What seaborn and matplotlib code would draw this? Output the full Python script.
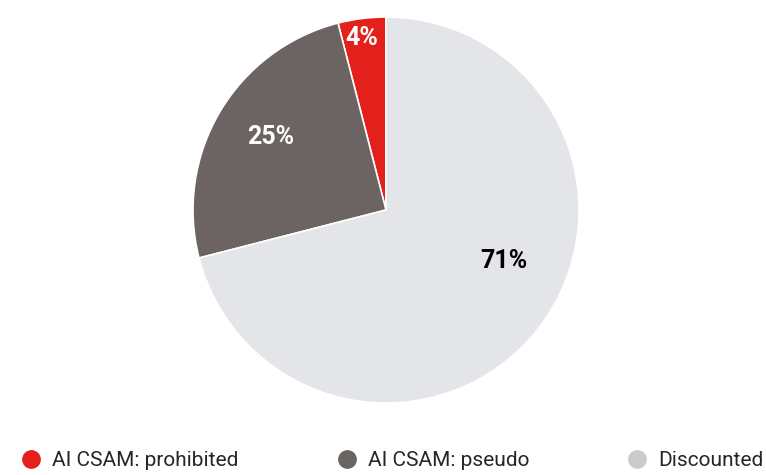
import matplotlib
matplotlib.use("Agg")
import matplotlib.pyplot as plt
from matplotlib.lines import Line2D
import seaborn as sns

categories = ["AI CSAM: prohibited", "AI CSAM: pseudo", "Discounted"]
shares = [4, 25, 71]
slice_colors = ["#e3201b", "#6b6462", "#e4e5e9"]
legend_colors = ["#e3201b", "#6b6462", "#cbcbcb"]
label_colors = ["white", "white", "black"]

sns.set_theme(style="white")
plt.rcParams["font.family"] = ["Roboto", "DejaVu Sans"]

fig = plt.figure(figsize=(7.66, 4.75), dpi=100)
ax = fig.add_axes([193 / 766, 72 / 475, 386 / 766, 386 / 475])

wedges, texts, autotexts = ax.pie(
    shares, colors=slice_colors, startangle=90, counterclock=True,
    autopct="%d%%", pctdistance=0.7,
    wedgeprops=dict(edgecolor="white", linewidth=1.2),
    textprops=dict(fontsize=18, fontweight="bold"),
)
# nudge labels to where the reference places them
label_pos = [(-0.124, 0.891), (-0.60, 0.378), (0.611, -0.264)]
for t, c, p in zip(autotexts, label_colors, label_pos):
    t.set_color(c)
    t.set_position(p)
ax.set_aspect("equal")
ax.set_xlim(-1, 1)
ax.set_ylim(-1, 1)

handles = [Line2D([0], [0], marker="o", linestyle="", markersize=12.5,
                  markerfacecolor=c, markeredgecolor=c) for c in legend_colors]
fig.legend(handles, categories, loc="lower left", bbox_to_anchor=(0.008, -0.016, 1.005, 0.06),
           ncol=3, mode="expand", frameon=False, fontsize=15,
           handletextpad=0.4, borderaxespad=0.2, handlelength=1.2)

fig.savefig("out.png", dpi=100)
